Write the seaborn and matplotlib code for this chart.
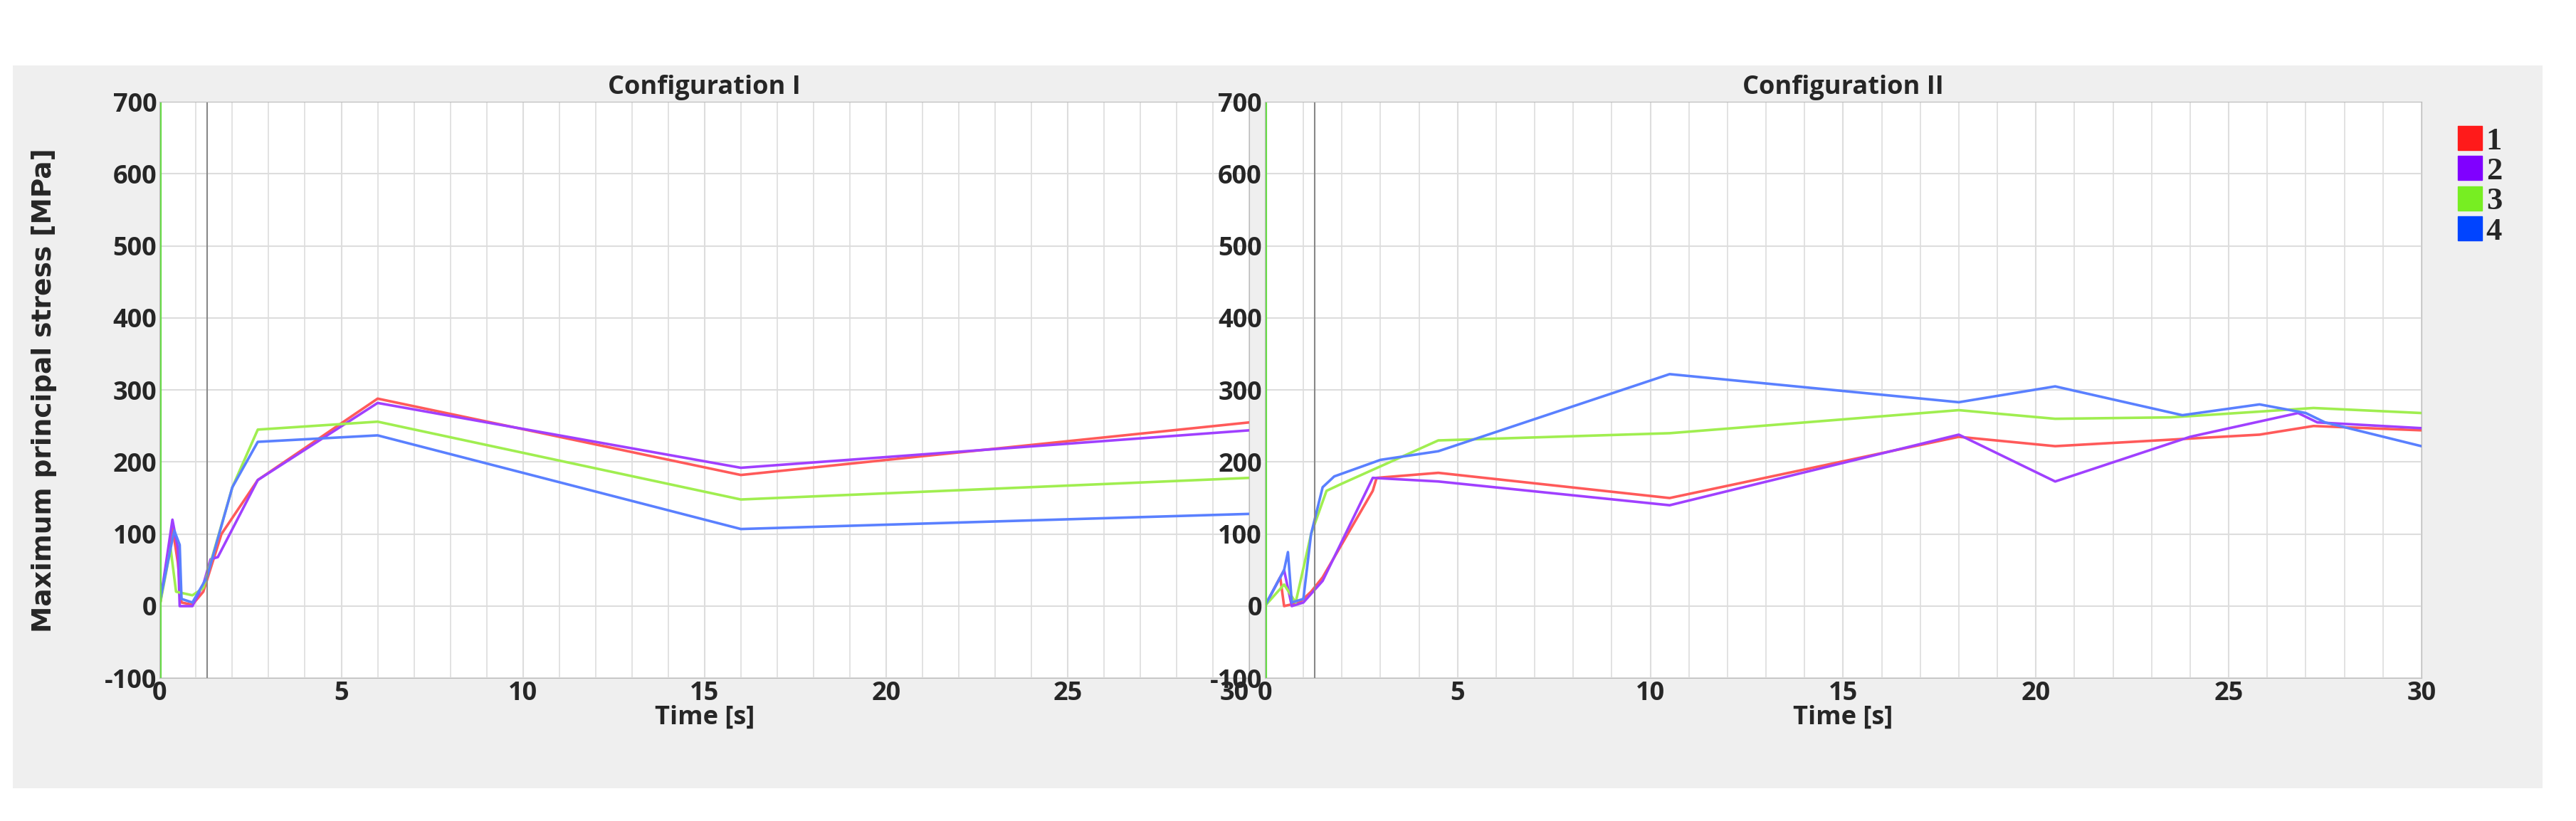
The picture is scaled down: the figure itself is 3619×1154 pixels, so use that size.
import numpy as np
import pandas as pd
import matplotlib
matplotlib.use("Agg")
import matplotlib.pyplot as plt
from matplotlib.patches import Rectangle
from matplotlib.lines import Line2D
import seaborn as sns

sns.set_style("whitegrid")
plt.rcParams['font.family'] = ['Open Sans', 'DejaVu Sans']
plt.rcParams['axes.unicode_minus'] = False

series_names = ["1", "2", "3", "4"]
line_colors = ["#ff5a5a", "#a040ff", "#a0ee50", "#5a80ff"]
legend_colors = ["#ff1a1a", "#8000ff", "#77ee22", "#0044ff"]

# Configuration I
c1_t1 = [0, 0.35, 0.5, 0.6, 0.9, 1.2, 1.7, 2.7, 6, 16, 30]
c1_v1 = [0, 110, 60, 5, 2, 20, 100, 175, 288, 182, 255]
c1_t2 = [0, 0.35, 0.5, 0.55, 0.9, 1.2, 1.4, 1.6, 2.7, 6, 16, 30]
c1_v2 = [0, 120, 80, 0, 0, 30, 65, 68, 175, 282, 192, 244]
c1_t3 = [0, 0.3, 0.45, 0.9, 1.2, 2, 2.7, 6, 16, 30]
c1_v3 = [0, 80, 20, 15, 25, 165, 245, 256, 148, 178]
c1_t4 = [0, 0.4, 0.55, 0.6, 0.9, 1.3, 2, 2.7, 6, 16, 30]
c1_v4 = [5, 105, 85, 10, 5, 40, 165, 228, 237, 107, 128]

# Configuration II
c2_t1 = [0, 0.4, 0.5, 0.9, 1.2, 1.5, 2.8, 2.9, 4.5, 10.5, 18, 20.5, 25.8, 27.2, 30]
c2_v1 = [0, 40, 0, 5, 20, 40, 160, 178, 185, 150, 235, 222, 238, 250, 244]
c2_t2 = [0, 0.5, 0.7, 1.0, 1.5, 2.8, 4.5, 10.5, 18, 20.5, 24, 26.8, 27.3, 30]
c2_v2 = [0, 50, 0, 5, 35, 178, 173, 140, 238, 173, 235, 268, 255, 247]
c2_t3 = [0, 0.5, 0.8, 1.2, 1.6, 2.0, 4.5, 10.5, 18, 20.5, 23.5, 25.8, 27.2, 30]
c2_v3 = [0, 30, 5, 100, 160, 170, 230, 240, 272, 260, 262, 270, 275, 268]
c2_t4 = [0, 0.5, 0.6, 0.7, 1.0, 1.2, 1.5, 1.8, 3.0, 4.5, 10.5, 18, 20.5, 23.8, 25.8, 27, 27.5, 30]
c2_v4 = [0, 50, 75, 5, 10, 100, 165, 180, 203, 215, 322, 283, 305, 265, 280, 268, 255, 222]

panels = [
    ("Configuration I", [(c1_t1, c1_v1), (c1_t2, c1_v2), (c1_t3, c1_v3), (c1_t4, c1_v4)]),
    ("Configuration II", [(c2_t1, c2_v1), (c2_t2, c2_v2), (c2_t3, c2_v3), (c2_t4, c2_v4)]),
]

fig = plt.figure(figsize=(36.19, 11.54), dpi=100)
fig.patches.append(Rectangle((0.005, 0.04), 0.982, 0.88, transform=fig.transFigure,
                             facecolor="#efefef", edgecolor="none", zorder=-10))
positions = [[0.062, 0.174, 0.423, 0.702], [0.491, 0.174, 0.449, 0.702]]

for i, (pos, (title, data)) in enumerate(zip(positions, panels)):
    ax = fig.add_axes(pos)
    for (t, v), name, col in zip(data, series_names, line_colors):
        df = pd.DataFrame({"t": t, "v": v})
        sns.lineplot(data=df, x="t", y="v", ax=ax, color=col, linewidth=2.6, sort=False)
    ax.set_xlim(0, 30)
    ax.set_ylim(-100, 700)
    ax.set_xticks(range(0, 31, 5))
    ax.set_xticks(range(0, 31, 1), minor=True)
    ax.set_yticks(range(-100, 701, 100))
    ax.grid(which="major", color="#dddddd", linewidth=1.5)
    ax.grid(which="minor", axis="x", color="#dddddd", linewidth=1.2)
    ax.axvline(1.3, color="#888888", linewidth=1.5)
    ax.axvline(0.02, color="#66dd44", linewidth=3)
    for s in ax.spines.values():
        s.set_color("#bbbbbb")
    ax.tick_params(axis="both", labelsize=26, length=0, pad=3)
    for lab in ax.get_xticklabels() + ax.get_yticklabels():
        lab.set_fontweight("bold")
    if i == 0:
        ax.get_xticklabels()[-1].set_horizontalalignment("right")
    ax.set_title(title, fontsize=26, fontweight="bold", pad=8)
    ax.set_xlabel("Time [s]", fontsize=26, fontweight="bold", labelpad=-2)
    ax.set_ylabel("")
fig.text(0.017, 0.525, "Maximum principal stress [MPa]", rotation=90, va="center", ha="center",
         fontsize=27, fontweight="bold", family=["DejaVu Sans"])

handles = [Line2D([], [], marker="s", linestyle="none", markersize=24, color=c) for c in legend_colors]
leg = fig.legend(handles, series_names, loc="upper left", bbox_to_anchor=(0.943, 0.88),
                 frameon=False, handletextpad=0.1, labelspacing=0.05, handlelength=0.8,
                 prop={"family": ["Liberation Serif"], "weight": "bold", "size": 32})
fig.savefig("out.png", dpi=100)
